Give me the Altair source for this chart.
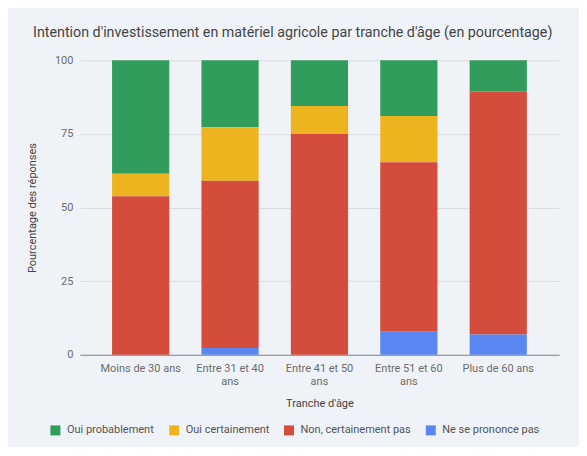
import altair as alt
import pandas as pd

groups = ["Moins de 30 ans", "Entre 31 et 40 ans", "Entre 41 et 50 ans",
          "Entre 51 et 60 ans", "Plus de 60 ans"]

# percentages per answer
ne_se_prononce = [0, 2.3, 0, 7.8, 6.9]
non_certainement = [53.8, 56.8, 75.0, 57.6, 82.5]
oui_certainement = [7.7, 18.2, 9.5, 15.7, 0]
oui_probablement = [38.5, 22.7, 15.5, 18.9, 10.6]

series = ["Oui probablement", "Oui certainement", "Non, certainement pas", "Ne se prononce pas"]
colors = ["#319c5b", "#edb41f", "#d44d3c", "#5a86f1"]
stack_rank = {"Ne se prononce pas": 0, "Non, certainement pas": 1,
              "Oui certainement": 2, "Oui probablement": 3}

values = {
    "Oui probablement": oui_probablement,
    "Oui certainement": oui_certainement,
    "Non, certainement pas": non_certainement,
    "Ne se prononce pas": ne_se_prononce,
}

rows = []
for rep in series:
    for g, v in zip(groups, values[rep]):
        rows.append({"tranche": g, "reponse": rep, "pct": v, "rang": stack_rank[rep]})
df = pd.DataFrame(rows)

FONT = "Roboto"

chart = alt.Chart(df).mark_bar().encode(
    x=alt.X("tranche:N", sort=groups, title="Tranche d'âge",
            scale=alt.Scale(paddingInner=0.36, paddingOuter=0.36),
            axis=alt.Axis(labelAngle=0, labelPadding=8, titlePadding=11, ticks=False,
                          domainColor="#888888", labelLineHeight=13,
                          labelExpr="length(datum.label) > 16 ? [slice(datum.label, 0, 14), 'ans'] : datum.label")),
    y=alt.Y("pct:Q", title="Pourcentage des réponses", stack="zero",
            scale=alt.Scale(domain=[0, 100], nice=False),
            axis=alt.Axis(values=[0, 25, 50, 75, 100], ticks=False, domain=False,
                          labelPadding=7, titlePadding=17, gridColor="#d9dce1")),
    color=alt.Color("reponse:N", scale=alt.Scale(domain=series, range=colors),
                    legend=alt.Legend(title=None, orient="none", direction="horizontal",
                                      legendX=-30, legendY=365, symbolType="square",
                                      symbolSize=100, symbolStrokeWidth=0,
                                      labelOffset=6, columnPadding=14)),
    order=alt.Order("rang:Q", sort="ascending"),
).properties(
    width=480,
    height=295,
    title=alt.Title("Intention d'investissement en matériel agricole par tranche d'âge (en pourcentage)",
                    anchor="middle", frame="bounds", offset=14),
    padding={"left": 18, "top": 17, "right": 20, "bottom": 11},
    background="#eff3f8",
).configure_view(
    stroke=None,
).configure_axis(
    labelFont=FONT, titleFont=FONT, labelFontSize=11, titleFontSize=11,
    labelColor="#6b6b6b", titleColor="#444444", titleFontWeight="normal",
).configure_legend(
    labelFont=FONT, labelFontSize=11, labelColor="#555555",
).configure_title(
    font=FONT, fontSize=14.3, fontWeight="normal", color="#444444",
)

chart.save("out.html", embed_options={"renderer": "svg", "actions": False})
